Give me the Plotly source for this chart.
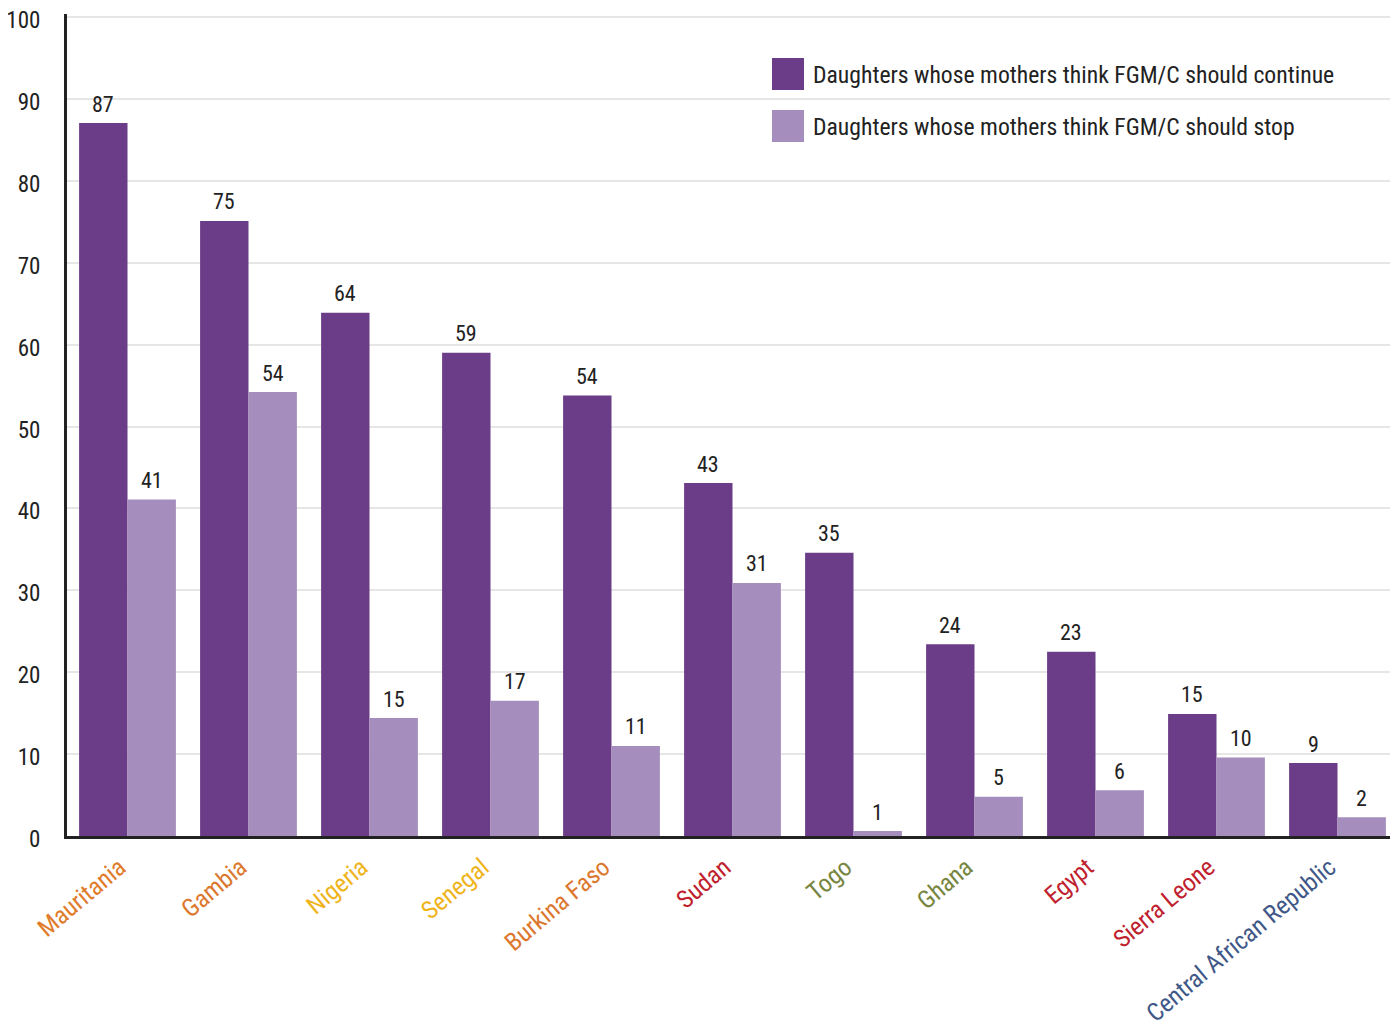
import plotly.graph_objects as go

countries = ["Mauritania", "Gambia", "Nigeria", "Senegal", "Burkina Faso", "Sudan",
             "Togo", "Ghana", "Egypt", "Sierra Leone", "Central African Republic"]
country_colors = ["#e07b2a", "#dc782e", "#efb41c", "#efb41c", "#dc782e", "#c01f2f",
                  "#77853f", "#77853f", "#c01f2f", "#c01f2f", "#3f5888"]
continue_vals = [87.05, 75.1, 63.9, 59.0, 53.8, 43.1, 34.6, 23.4, 22.5, 14.9, 8.9]
continue_labels = [87, 75, 64, 59, 54, 43, 35, 24, 23, 15, 9]
stop_vals = [41.1, 54.2, 14.4, 16.5, 11.0, 30.9, 0.6, 4.8, 5.6, 9.6, 2.3]
stop_labels = [41, 54, 15, 17, 11, 31, 1, 5, 6, 10, 2]
series_names = ["Daughters whose mothers think FGM/C should continue",
                "Daughters whose mothers think FGM/C should stop"]
series_colors = ["#6b3c87", "#a58ebd"]
y_ticks = [0, 10, 20, 30, 40, 50, 60, 70, 80, 90, 100]

FONT = "Roboto Condensed, Roboto, sans-serif"
BARGAP = 0.2

# plot area in screen px: x 67..1398, y 14..836 (value 100 sits at y=17)
PX0, PW, PY1, PH = 67, 1331, 836, 822
Y_MAX = PH / 8.19


def px_x(x):
    return (x - PX0) / PW


def px_y(y):
    return (PY1 - y) / PH


fig = go.Figure()
series = [(continue_vals, continue_labels, series_names[0], series_colors[0]),
          (stop_vals, stop_labels, series_names[1], series_colors[1])]
bar_w = (1 - BARGAP) / len(series)
for s, (vals, labels, name, col) in enumerate(series):
    fig.add_trace(go.Bar(
        x=countries, y=vals, name=name, marker=dict(color=col, line=dict(width=0)),
        showlegend=False,
    ))
    offset = -(1 - BARGAP) / 2 + bar_w * (s + 0.5)
    for i, (v, lab) in enumerate(zip(vals, labels)):
        fig.add_annotation(x=i + offset, y=v, text=str(lab), showarrow=False,
                           yanchor="middle", yshift=19,
                           font=dict(family=FONT, size=22, color="#222222"))

# manual legend (large square swatches)
for i, (name, col) in enumerate(zip(series_names, series_colors)):
    top = 58 + i * 52
    fig.add_shape(type="rect", xref="paper", yref="paper",
                  x0=px_x(772), x1=px_x(804), y0=px_y(top + 32), y1=px_y(top),
                  fillcolor=col, line=dict(width=0))
    fig.add_annotation(xref="paper", yref="paper", x=px_x(811), y=px_y(top + 17),
                       text=name, showarrow=False, xanchor="left", yanchor="middle",
                       font=dict(family=FONT, size=23.7, color="#222222"))

fig.update_layout(
    barmode="group", bargap=BARGAP, bargroupgap=0,
    width=1390, height=1016,
    margin=dict(l=59, r=0, t=6, b=188),
    plot_bgcolor="white", paper_bgcolor="white",
    font=dict(family=FONT, color="#222222"),
)
fig.update_xaxes(
    showline=True, linecolor="#222222", linewidth=3, automargin=False,
    tickangle=-40, ticks="", ticklabelstandoff=4, ticklabelshift=-8,
    tickmode="array", tickvals=countries,
    ticktext=[f'<span style="color:{c}">{n}</span>' for n, c in zip(countries, country_colors)],
    tickfont=dict(family=FONT, size=25),
    range=[-0.5, 10.5],
)
fig.update_yaxes(
    range=[0, Y_MAX], tickvals=y_ticks, showgrid=True, gridcolor="#e6e6e6", gridwidth=2,
    showline=True, linecolor="#222222", linewidth=3, zeroline=False, automargin=False,
    ticklabeloverflow="allow", ticklabelshift=3,
    tickfont=dict(family=FONT, size=23, color="#222222"), ticklabelstandoff=19,
)

fig.write_html("out.html")
